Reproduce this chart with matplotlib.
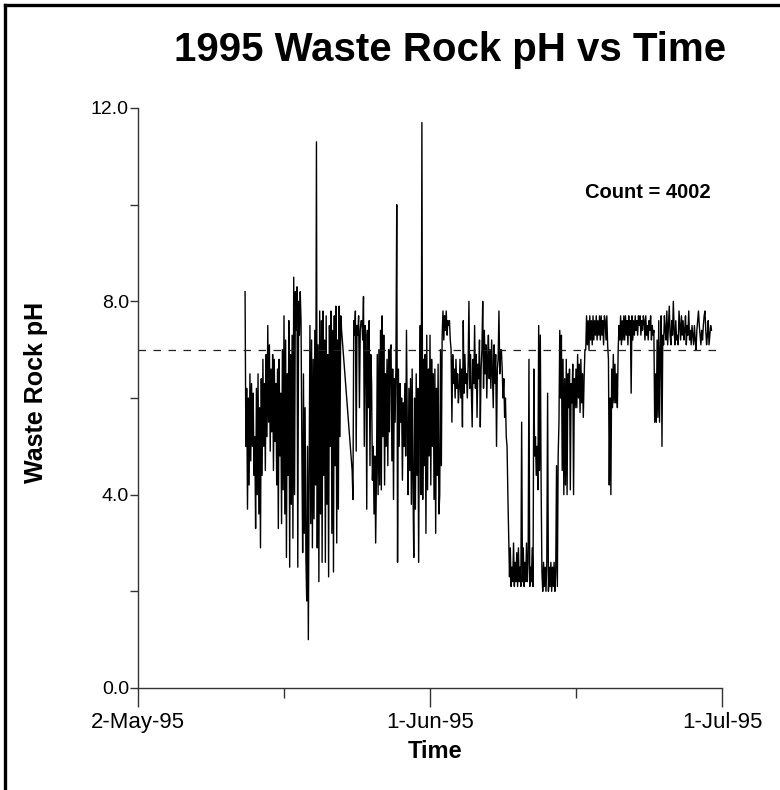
import numpy as np
import pandas as pd
import matplotlib
matplotlib.use("Agg")
import matplotlib.pyplot as plt
from matplotlib.lines import Line2D

plt.rcParams["font.family"] = ["Liberation Sans", "DejaVu Sans"]

# pH at 2-hour steps, one row per day
ph_may13 = [
    8.2, 5.0, 6.2, 3.7, 6.0, 4.2, 6.5, 4.7, 6.3, 5.0, 6.1, 4.4,   # May 13
    5.2, 3.3, 6.2, 4.0, 6.5, 3.6, 5.8, 2.9, 6.4, 4.4, 6.8, 5.0,   # May 14
    6.3, 4.5, 6.9, 5.2, 7.5, 5.5, 7.1, 4.9, 6.6, 5.3, 6.9, 4.5,   # May 15
    6.8, 5.1, 6.3, 4.2, 6.6, 3.3, 6.8, 4.8, 6.1, 3.4, 7.0, 4.1,   # May 16
    7.7, 3.6, 7.2, 2.7, 6.5, 4.4, 7.6, 2.5, 6.9, 3.8, 7.3, 3.1,   # May 17
    8.5, 4.0, 8.2, 7.4, 8.3, 2.5, 8.0, 7.3, 8.2, 7.6, 5.0, 2.8,   # May 18
    6.5, 3.2, 5.8, 2.7, 1.8, 5.0, 1.0, 4.5, 7.5, 3.4, 7.2, 2.9,   # May 19
    6.8, 3.5, 7.4, 4.2, 11.3, 2.9, 7.1, 2.2, 7.8, 3.6, 7.6, 2.6,  # May 20
    7.8, 4.4, 7.2, 2.6, 7.7, 3.8, 6.9, 2.3, 7.5, 5.0, 7.8, 3.2,   # May 21
    7.4, 2.4, 7.7, 4.6, 7.9, 3.0, 7.2, 3.7, 7.9, 5.2, 7.7, 7.4,   # May 22
]
ph_may24 = [
    4.5, 3.9, 7.6, 7.3, 7.8, 4.9, 7.5, 7.3, 7.7, 5.8, 7.4, 7.6,   # May 24
    7.6, 7.2, 8.1, 5.0, 7.5, 7.3, 3.7, 7.4, 5.8, 7.6, 4.6, 6.9,   # May 25
    6.3, 4.3, 5.0, 3.6, 4.8, 3.0, 4.4, 6.9, 4.0, 7.0, 4.2, 7.4,   # May 26
    4.1, 7.7, 5.2, 7.3, 4.2, 6.5, 5.0, 6.8, 4.6, 7.0, 5.3, 7.0,   # May 27
    7.1, 4.7, 6.6, 3.9, 6.4, 5.5, 6.7, 10.0, 2.6, 6.6, 5.0, 6.3,  # May 28
    5.5, 6.0, 4.3, 5.9, 5.0, 6.3, 4.8, 7.4, 5.4, 4.0, 6.2, 4.5,   # May 29
    6.4, 3.8, 6.6, 4.2, 2.7, 6.0, 3.7, 6.5, 4.4, 6.2, 2.6, 5.8,   # May 30
    7.5, 4.0, 11.7, 3.9, 6.8, 4.6, 6.9, 3.2, 7.3, 4.1, 6.6, 4.8,  # May 31
    7.3, 4.2, 6.8, 5.0, 6.5, 3.9, 6.6, 3.2, 6.2, 4.4, 6.7, 3.6,   # Jun 1
    4.0, 7.0, 4.6, 7.3, 7.8, 7.2, 7.7, 7.4, 7.8, 7.3, 7.6, 7.5,   # Jun 2
]
ph_jun03 = [
    7.6, 7.2, 7.0, 5.5, 6.9, 6.3, 6.6, 6.0, 6.8, 6.2, 6.5, 5.9,   # Jun 3
    6.2, 6.8, 6.0, 6.6, 5.4, 7.6, 6.1, 6.9, 6.3, 6.5, 6.0, 6.7,   # Jun 4
    8.0, 6.2, 6.9, 6.1, 5.4, 6.8, 6.3, 7.5, 6.2, 6.9, 5.6, 6.7,   # Jun 5
    6.4, 7.2, 5.4, 6.6, 7.0, 8.0, 6.2, 7.4, 6.5, 7.1, 6.0, 6.8,   # Jun 6
    7.3, 6.4, 7.0, 6.2, 7.2, 6.5, 5.8, 7.1, 6.3, 6.9, 5.0, 6.6,   # Jun 7
    6.8, 7.8, 6.5, 7.0, 7.0, 6.6, 6.0, 6.4, 5.6, 6.0, 5.2, 5.0,   # Jun 8
    4.0, 3.2, 2.3, 2.9, 2.1, 2.5, 2.2, 3.0, 2.1, 2.6, 2.2, 2.8,   # Jun 9
    2.1, 2.9, 2.2, 2.5, 2.1, 5.5, 2.2, 2.9, 2.1, 2.6, 2.2, 3.0,   # Jun 10
    2.2, 2.6, 6.8, 2.1, 2.5, 2.2, 2.9, 2.1, 6.6, 4.8, 5.2, 4.4,   # Jun 11
    5.0, 4.1, 7.5, 4.5, 7.3, 4.2, 2.4, 2.0, 2.6, 2.1, 2.5, 2.0,   # Jun 12
]
ph_jun13 = [
    2.6, 6.1, 2.0, 2.5, 2.1, 2.6, 2.0, 2.5, 2.1, 2.6, 2.0, 2.4,   # Jun 13
    4.6, 2.1, 4.8, 5.5, 7.4, 6.0, 7.3, 4.5, 6.8, 4.0, 6.4, 4.2,   # Jun 14
    6.8, 4.0, 6.5, 5.8, 6.6, 4.1, 6.3, 5.9, 6.7, 4.0, 6.4, 5.8,   # Jun 15
    6.6, 5.8, 6.9, 6.0, 6.7, 5.7, 6.8, 5.9, 6.5, 5.6, 6.4, 7.0,   # Jun 16
    7.0, 7.7, 7.1, 7.6, 7.0, 7.7, 7.2, 7.6, 7.1, 7.7, 7.2, 7.6,   # Jun 17
    7.3, 7.7, 7.2, 7.6, 7.3, 7.7, 7.2, 7.7, 7.3, 7.6, 7.1, 7.7,   # Jun 18
    7.6, 7.2, 7.7, 7.1, 6.8, 4.2, 6.0, 4.0, 6.6, 5.8, 6.9, 5.9,   # Jun 19
    6.7, 5.9, 6.5, 5.8, 7.0, 7.5, 7.2, 7.7, 7.1, 7.6, 7.2, 7.7,   # Jun 20
    7.2, 7.7, 7.3, 7.6, 7.1, 7.7, 7.3, 7.6, 6.1, 7.7, 7.2, 7.6,   # Jun 21
    7.3, 7.7, 7.4, 7.6, 7.3, 7.7, 7.5, 7.7, 7.3, 7.6, 7.4, 7.7,   # Jun 22
]
ph_jun23 = [
    7.6, 7.2, 7.7, 7.3, 7.5, 7.2, 7.6, 7.4, 7.7, 7.2, 7.5, 7.3,   # Jun 23
    7.4, 5.5, 6.5, 5.5, 7.2, 5.6, 7.6, 5.5, 7.0, 7.7, 5.0, 7.3,   # Jun 24
    7.1, 7.7, 7.4, 7.2, 7.8, 7.1, 7.5, 7.9, 7.3, 7.1, 7.6, 7.3,   # Jun 25
    8.0, 7.4, 7.1, 7.6, 7.2, 7.3, 7.1, 7.8, 7.5, 7.2, 7.7, 7.3,   # Jun 26
    7.6, 7.2, 7.4, 7.7, 7.1, 7.5, 7.3, 7.8, 7.2, 7.4, 7.1, 7.5,   # Jun 27
    7.3, 7.1, 7.5, 7.2, 7.0, 7.4, 7.6, 7.8, 7.5, 7.3, 7.1, 7.4,   # Jun 28
    7.2, 7.5, 7.7, 7.8, 7.4, 7.1, 7.3, 7.6, 7.1, 7.3, 7.5, 7.4,   # Jun 29
]
chunks = [ph_may13, ph_may24, ph_jun03, ph_jun13, ph_jun23]
chunk_starts = ["1995-05-13", "1995-05-24", "1995-06-03", "1995-06-13", "1995-06-23"]

target_ph = 7.0
count = 4002
x_ticks = ["1995-05-02", "1995-06-01", "1995-07-01"]
x_minor = ["1995-05-17", "1995-06-16"]
x_labels = ["2-May-95", "1-Jun-95", "1-Jul-95"]
y_ticks = [0, 4, 8, 12]
y_minor = [2, 6, 10]

parts = []
for start, vals in zip(chunk_starts, chunks):
    t = pd.date_range(start, periods=len(vals), freq="2h")
    parts.append(pd.Series(vals, index=t))
ph = pd.concat(parts)

fig = plt.figure(figsize=(7.8, 7.9), dpi=100)
ax = fig.add_axes([138 / 780, 1 - 688 / 790, 584 / 780, 580 / 790])

ax.plot(ph.index, ph.values, color="black", lw=1.0)
ax.axhline(target_ph, color="#222222", lw=0.9, ls=(0, (6, 6)))

ax.set_xlim(pd.Timestamp(x_ticks[0]), pd.Timestamp(x_ticks[-1]))
ax.set_ylim(0, 12)

ax.set_xticks([pd.Timestamp(d) for d in x_ticks])
ax.set_xticklabels(x_labels)
ax.set_xticks([pd.Timestamp(d) for d in x_minor], minor=True)
ax.set_yticks(y_ticks)
ax.set_yticklabels([f"{v:.1f}" for v in y_ticks])
ax.set_yticks(y_minor, minor=True)

for side in ["top", "right"]:
    ax.spines[side].set_visible(False)
for side in ["left", "bottom"]:
    ax.spines[side].set_color("#333333")
    ax.spines[side].set_linewidth(1.0)

ax.tick_params(axis="x", which="major", length=14, width=1, color="#333333",
               labelsize=16, pad=3)
ax.tick_params(axis="x", which="minor", length=7, width=1, color="#333333")
ax.tick_params(axis="y", which="both", length=6, width=1, color="#333333",
               labelsize=14, pad=0.5)

fig.text(450 / 780, 1 - 50 / 790, "1995 Waste Rock pH vs Time",
         ha="center", va="center", fontsize=29, fontweight="bold")
fig.text(36 / 780, 1 - 392 / 790, "Waste Rock pH", rotation=90,
         ha="center", va="center", fontsize=18, fontweight="bold")
fig.text(435 / 780, 1 - 752 / 790, "Time",
         ha="center", va="center", fontsize=17, fontweight="bold")
fig.text(648 / 780, 1 - 193 / 790, f"Count = {count}",
         ha="center", va="center", fontsize=14.5, fontweight="bold")

# frame around the whole picture
fig.add_artist(Line2D([4.5 / 780, 4.5 / 780], [0, 1 - 4.5 / 790],
                      transform=fig.transFigure, color="black", lw=2.4))
fig.add_artist(Line2D([4.5 / 780, 1], [1 - 4.5 / 790, 1 - 4.5 / 790],
                      transform=fig.transFigure, color="black", lw=2.4))

fig.savefig("out.png", dpi=100)
